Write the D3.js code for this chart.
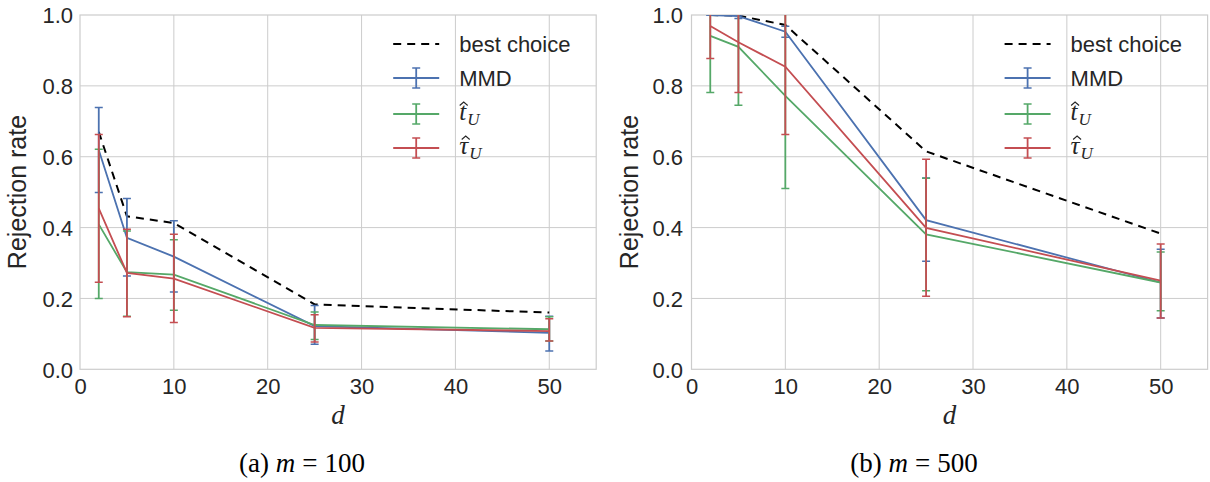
<!DOCTYPE html>
<html><head><meta charset="utf-8">
<script src="https://cdn.jsdelivr.net/npm/d3@7"></script>
<style>body{margin:0;background:#fff}</style>
</head><body>
<svg id="c" width="1210" height="482"></svg>
<script>
const dims = [2, 5, 10, 25, 50];
const xTicks = [0, 10, 20, 30, 40, 50];
const yTicks = [0, 0.2, 0.4, 0.6, 0.8, 1.0];
const seriesNames = ["MMD", "t", "tau"];
const captions = [["(a)", "m", "=", "100"], ["(b)", "m", "=", "500"]];

// panel (a) m = 100
const bestA   = [0.670, 0.432, 0.413, 0.183, 0.160];
const mmdA    = [0.619, 0.371, 0.318, 0.122, 0.103];
const mmdA_lo = [0.499, 0.263, 0.218, 0.071, 0.052];
const mmdA_hi = [0.739, 0.482, 0.419, 0.180, 0.150];
const tA      = [0.409, 0.274, 0.267, 0.125, 0.113];
const tA_lo   = [0.200, 0.150, 0.167, 0.084, 0.080];
const tA_hi   = [0.621, 0.390, 0.366, 0.162, 0.148];
const tauA    = [0.454, 0.272, 0.256, 0.117, 0.108];
const tauA_lo = [0.246, 0.148, 0.132, 0.077, 0.080];
const tauA_hi = [0.663, 0.395, 0.381, 0.154, 0.143];

// panel (b) m = 500
const bestB   = [1.000, 0.998, 0.972, 0.615, 0.383];
const mmdB    = [1.000, 0.997, 0.953, 0.421, 0.245];
const mmdB_lo = [1.000, 0.990, 0.937, 0.305, 0.145];
const mmdB_hi = [1.000, 1.000, 0.968, 0.540, 0.339];
const tB      = [0.941, 0.910, 0.772, 0.381, 0.245];
const tB_lo   = [0.781, 0.745, 0.510, 0.222, 0.165];
const tB_hi   = [1.100, 1.075, 1.030, 0.539, 0.331];
const tauB    = [0.969, 0.923, 0.854, 0.399, 0.250];
const tauB_lo = [0.877, 0.781, 0.663, 0.206, 0.145];
const tauB_hi = [1.060, 1.065, 1.045, 0.593, 0.354];

const colors = {MMD: "#4C72B0", t: "#55A868", tau: "#C44E52"};
const textColor = "#262626";
const gridColor = "#cccccc";
const sans = "'Liberation Sans', Arial, sans-serif";
const serif = "'Liberation Serif', 'Times New Roman', serif";

const svg = d3.select("#c");

const panels = [
  {x0: 80, x1: 596.2, best: bestA,
   series: {MMD: [mmdA, mmdA_lo, mmdA_hi], t: [tA, tA_lo, tA_hi], tau: [tauA, tauA_lo, tauA_hi]},
   ylabX: 26, tickX: 73, capX: 302, cap: captions[0]},
  {x0: 691.5, x1: 1207.6, best: bestB,
   series: {MMD: [mmdB, mmdB_lo, mmdB_hi], t: [tB, tB_lo, tB_hi], tau: [tauB, tauB_lo, tauB_hi]},
   ylabX: 638, tickX: 683, capX: 914, cap: captions[1]}
];
const yTop = 15, yBot = 369.3;

panels.forEach((p, pi) => {
  const x = d3.scaleLinear().domain([0, 55]).range([p.x0, p.x1]);
  const y = d3.scaleLinear().domain([0, 1]).range([yBot, yTop]);
  const g = svg.append("g");

  // grid
  g.selectAll(".gx").data(xTicks.slice(1)).join("line")
    .attr("x1", d => x(d)).attr("x2", d => x(d)).attr("y1", yTop).attr("y2", yBot)
    .attr("stroke", gridColor).attr("stroke-width", 1);
  g.selectAll(".gy").data(yTicks.slice(1, -1)).join("line")
    .attr("x1", p.x0).attr("x2", p.x1).attr("y1", d => y(d)).attr("y2", d => y(d))
    .attr("stroke", gridColor).attr("stroke-width", 1);
  g.append("rect").attr("x", p.x0).attr("y", yTop).attr("width", p.x1 - p.x0).attr("height", yBot - yTop)
    .attr("fill", "none").attr("stroke", gridColor).attr("stroke-width", 1.2);

  // axes tick labels (via d3 axes, domain & ticks hidden)
  const ax = d3.axisBottom(x).tickValues(xTicks).tickSize(0).tickPadding(0).tickFormat(d3.format("d"));
  const gx = g.append("g").attr("transform", `translate(0,${yBot})`).call(ax);
  gx.select(".domain").remove();
  gx.selectAll("text").attr("font-family", sans).attr("font-size", 22).attr("fill", textColor)
    .attr("dy", null).attr("y", 25);
  const ay = d3.axisLeft(y).tickValues(yTicks).tickSize(0).tickPadding(0).tickFormat(d3.format(".1f"));
  const gy = g.append("g").attr("transform", `translate(${p.tickX},0)`).call(ay);
  gy.select(".domain").remove();
  gy.selectAll("text").attr("font-family", sans).attr("font-size", 22).attr("fill", textColor)
    .attr("x", 0).attr("dy", "0.36em");

  // axis labels
  g.append("text").attr("transform", `translate(${p.ylabX},192) rotate(-90)`)
    .attr("text-anchor", "middle").attr("font-family", sans).attr("font-size", 25)
    .attr("fill", textColor).text("Rejection rate");
  g.append("text").attr("x", (p.x0 + p.x1) / 2).attr("y", 424).attr("text-anchor", "middle")
    .attr("font-family", serif).attr("font-style", "italic").attr("font-size", 27)
    .attr("fill", textColor).text("d");
  const ct = g.append("text").attr("x", p.capX).attr("y", 472).attr("text-anchor", "middle")
    .attr("font-family", serif).attr("font-size", 27).attr("fill", "#000");
  ct.append("tspan").text(p.cap[0] + " ");
  ct.append("tspan").attr("font-style", "italic").text(p.cap[1]);
  ct.append("tspan").attr("dx", 7).text(p.cap[2]);
  ct.append("tspan").attr("dx", 7).text(p.cap[3]);

  // clip
  const cid = "clip" + pi;
  svg.append("clipPath").attr("id", cid).append("rect")
    .attr("x", p.x0).attr("y", yTop).attr("width", p.x1 - p.x0).attr("height", yBot - yTop);
  const pg = g.append("g").attr("clip-path", `url(#${cid})`);

  const line = d3.line().x((d, i) => x(dims[i])).y(d => y(d));
  pg.append("path").datum(p.best).attr("d", line).attr("fill", "none")
    .attr("stroke", "#000").attr("stroke-width", 2).attr("stroke-dasharray", "8,6");

  seriesNames.forEach(name => {
    const [v, lo, hi] = p.series[name];
    const c = colors[name];
    pg.append("path").datum(v).attr("d", line).attr("fill", "none")
      .attr("stroke", c).attr("stroke-width", 1.8);
    const eb = pg.append("g");
    dims.forEach((dd, i) => {
      const xx = x(dd);
      eb.append("line").attr("x1", xx).attr("x2", xx).attr("y1", y(lo[i])).attr("y2", y(hi[i]))
        .attr("stroke", c).attr("stroke-width", 1.8);
      [lo[i], hi[i]].forEach(e => {
        eb.append("line").attr("x1", xx - 4).attr("x2", xx + 4).attr("y1", y(e)).attr("y2", y(e))
          .attr("stroke", c).attr("stroke-width", 1.5);
      });
    });
  });

  // legend
  const lx = p.x1 - 203, tx = lx + 66;
  const lg = g.append("g");
  lg.append("line").attr("x1", lx).attr("x2", lx + 46).attr("y1", 44).attr("y2", 44)
    .attr("stroke", "#000").attr("stroke-width", 2).attr("stroke-dasharray", "8,6");
  lg.append("text").attr("x", tx).attr("y", 44).attr("dy", "0.36em").attr("font-family", sans)
    .attr("font-size", 22).attr("fill", textColor).text("best choice");
  const ly = {MMD: 78, t: 114, tau: 148};
  seriesNames.forEach(name => {
    const c = colors[name], yy = ly[name];
    lg.append("line").attr("x1", lx).attr("x2", lx + 46).attr("y1", yy).attr("y2", yy)
      .attr("stroke", c).attr("stroke-width", 1.8);
    lg.append("line").attr("x1", lx + 23).attr("x2", lx + 23).attr("y1", yy - 10).attr("y2", yy + 10)
      .attr("stroke", c).attr("stroke-width", 1.8);
    [yy - 10, yy + 10].forEach(e => lg.append("line").attr("x1", lx + 19).attr("x2", lx + 27)
      .attr("y1", e).attr("y2", e).attr("stroke", c).attr("stroke-width", 1.5));
    if (name === "MMD") {
      lg.append("text").attr("x", tx).attr("y", yy).attr("dy", "0.36em").attr("font-family", sans)
        .attr("font-size", 22).attr("fill", textColor).text("MMD");
    } else {
      const base = name === "t" ? "t" : "τ";
      const t = lg.append("text").attr("x", tx).attr("y", yy + 6).attr("font-family", serif)
        .attr("font-size", 25).attr("fill", textColor);
      t.append("tspan").attr("font-style", "italic").text(base);
      t.append("tspan").attr("font-style", "italic").attr("font-size", 17).attr("dy", 5).attr("dx", 1).text("U");
      // circumflex accent drawn as a small chevron above the base glyph
      const hx = tx + (name === "t" ? 4.5 : 6.5), hy = yy - 12;
      lg.append("path").attr("d", `M${hx - 4},${hy + 3.5}L${hx},${hy}L${hx + 4},${hy + 3.5}`)
        .attr("fill", "none").attr("stroke", textColor).attr("stroke-width", 1.1);
    }
  });
});
</script>
</body></html>
